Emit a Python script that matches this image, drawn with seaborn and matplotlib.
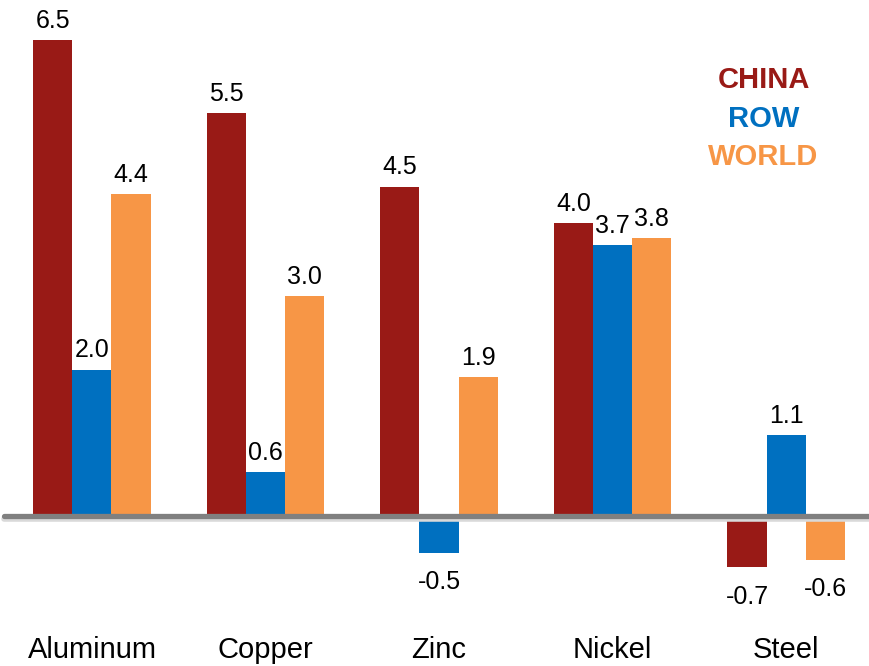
import matplotlib
matplotlib.use("Agg")
import matplotlib.pyplot as plt
import seaborn as sns
import pandas as pd

metals = ["Aluminum", "Copper", "Zinc", "Nickel", "Steel"]
series = ["CHINA", "ROW", "WORLD"]
china = [6.5, 5.5, 4.5, 4.0, -0.7]
row = [2.0, 0.6, -0.5, 3.7, 1.1]
world = [4.4, 3.0, 1.9, 3.8, -0.6]
colors = {"CHINA": "#991A16", "ROW": "#0070C0", "WORLD": "#F79646"}

df = pd.DataFrame({
    "metal": metals * 3,
    "series": ["CHINA"] * 5 + ["ROW"] * 5 + ["WORLD"] * 5,
    "value": china + row + world,
})

sns.set_theme(style="white")
plt.rcParams["font.family"] = ["Liberation Sans", "DejaVu Sans"]

fig = plt.figure(figsize=(8.69, 6.66), dpi=100)
ax = fig.add_axes([0, 0, 1, 1])

group_w = 0.675
sns.barplot(data=df, x="metal", y="value", hue="series", order=metals,
            hue_order=series, palette=colors, width=group_w, gap=0,
            saturation=1, legend=False, linewidth=0, edgecolor="none",
            ax=ax, zorder=2)

ax.set_xlim(-0.530, 4.478)
ax.set_ylim(-2.049, 7.049)
ax.axis("off")

# baseline with a soft shadow underneath
ax.axhline(-0.045, xmin=4 / 869, xmax=1, color="#d9d9d9", lw=4, zorder=3)
ax.axhline(0, xmin=4 / 869, xmax=1, color="#808080", lw=3.8, zorder=4)

bw = group_w / 3
for j, (name, vals) in enumerate(zip(series, [china, row, world])):
    for i, v in enumerate(vals):
        x = i + (j - 1) * bw
        if v >= 0:
            ax.text(x, v + 0.1, f"{v:.1f}", ha="center", va="bottom",
                    fontsize=18, color="black", zorder=5)
        else:
            ax.text(x, v - 0.24, f"-{abs(v):.1f}", ha="center", va="top",
                    fontsize=18, color="black", zorder=5)

for i, m in enumerate(metals):
    ax.text(i, -1.83, m, ha="center", va="center", fontsize=21, color="black")

for k, name in enumerate(series):
    ax.text(3.87, 5.95 - k * 0.52, name, ha="center", va="center",
            fontsize=21, fontweight="bold", color=colors[name])

fig.savefig("out.png", dpi=100)
